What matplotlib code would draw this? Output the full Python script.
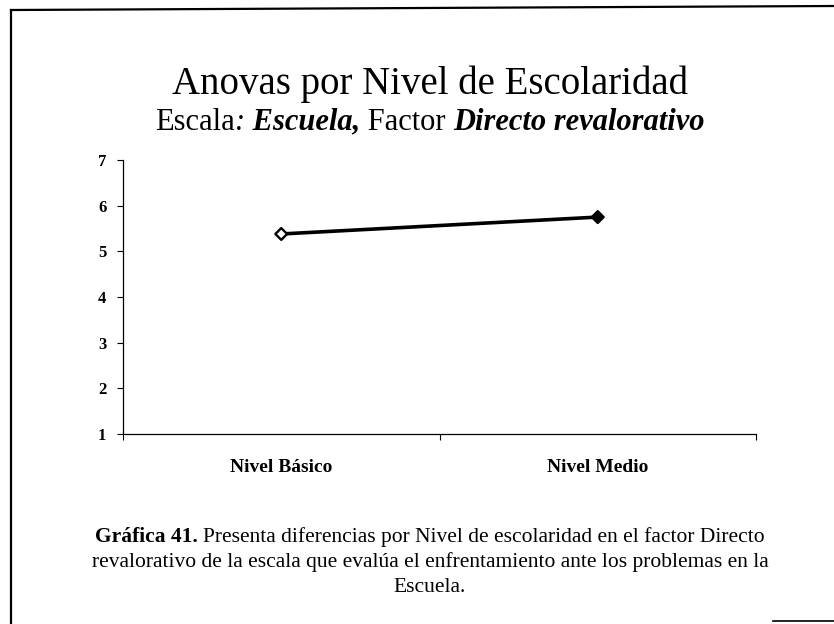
import matplotlib.pyplot as plt
from matplotlib.lines import Line2D

# ── data ────────────────────────────────────────────────────────────────────
niveles = ["Nivel Básico", "Nivel Medio"]
medias = [5.38, 5.75]
y_ticks = [1, 2, 3, 4, 5, 6, 7]

titulo = "Anovas por Nivel de Escolaridad"
pie = ("Presenta diferencias por Nivel de escolaridad en el factor Directo\n"
       "revalorativo de la escala que evalúa el enfrentamiento ante los problemas en la\n"
       "Escuela.")

plt.rcParams["font.family"] = ["Liberation Serif", "DejaVu Serif"]

fig = plt.figure(figsize=(8.34, 6.24), dpi=100)
W, H = 834, 624
CX = 430  # horizontal centre of the text block

def fx(px):
    return px / W

def fy(py):
    return 1 - py / H

renderer = fig.canvas.get_renderer()

def ancho(s, **kw):
    t = fig.text(0, 0, s, **kw)
    w = t.get_window_extent(renderer).width
    t.remove()
    return w

def linea_mixta(partes, y, size):
    # centre a run of differently styled pieces on one line
    ws = [ancho(s, fontsize=size, fontweight=w, fontstyle=st) for s, w, st in partes]
    x = fx(CX) - sum(ws) / W / 2
    for (s, w, st), wd in zip(partes, ws):
        fig.text(x, y, s, fontsize=size, fontweight=w, fontstyle=st,
                 ha="left", va="center")
        x += wd / W

# ── page frame ──────────────────────────────────────────────────────────────
fig.add_artist(Line2D([fx(11), fx(11)], [fy(10), 0], color="black", lw=1.6))
fig.add_artist(Line2D([fx(11), 1], [fy(10), fy(6)], color="black", lw=1.6))
fig.add_artist(Line2D([fx(773), 1], [fy(621), fy(621)], color="black", lw=1.2))

# ── titles ──────────────────────────────────────────────────────────────────
fig.text(fx(CX), fy(84), titulo, ha="center", va="center", fontsize=28)
linea_mixta([("Escala", "normal", "normal"), (":", "normal", "italic"),
             (" Escuela,", "bold", "italic"), (" Factor ", "normal", "normal"),
             ("Directo revalorativo", "bold", "italic")], fy(122), 22)

# ── chart ───────────────────────────────────────────────────────────────────
ax = fig.add_axes([fx(123), fy(434), fx(756) - fx(123), (434 - 160) / H])
xs = range(len(niveles))
ax.plot(xs, medias, color="black", lw=2.6, zorder=2)
ax.scatter(xs, medias, marker="D", s=36, facecolors=["white", "black"],
           edgecolors="black", linewidths=1.7, zorder=3)

ax.set_xlim(-0.5, len(niveles) - 0.5)
ax.set_ylim(1, 7)
ax.set_yticks(y_ticks)
ax.set_yticklabels([str(v) for v in y_ticks], fontweight="bold", fontsize=12)
ax.set_xticks([-0.5, 0.5, 1.5])
ax.set_xticklabels([])
ax.tick_params(axis="y", length=4, direction="out", width=0.8, pad=8)
ax.tick_params(axis="x", length=4, direction="out", width=0.8)
for i, name in enumerate(niveles):
    ax.text(i, -0.09, name, transform=ax.get_xaxis_transform(),
            ha="center", va="top", fontsize=14, fontweight="bold")
for side in ("top", "right"):
    ax.spines[side].set_visible(False)
ax.spines["left"].set_linewidth(0.9)
ax.spines["bottom"].set_linewidth(0.9)
ax.patch.set_alpha(0)

# ── caption ─────────────────────────────────────────────────────────────────
lineas = pie.split("\n")
cap_y = [537, 562, 587]
cap_fs = 15.5
linea_mixta([("Gráfica 41. ", "bold", "normal"), (lineas[0], "normal", "normal")],
            fy(cap_y[0]), cap_fs)
for texto, yy in zip(lineas[1:], cap_y[1:]):
    fig.text(fx(CX), fy(yy), texto, fontsize=cap_fs, ha="center", va="center")

fig.savefig("out.png", dpi=100)
